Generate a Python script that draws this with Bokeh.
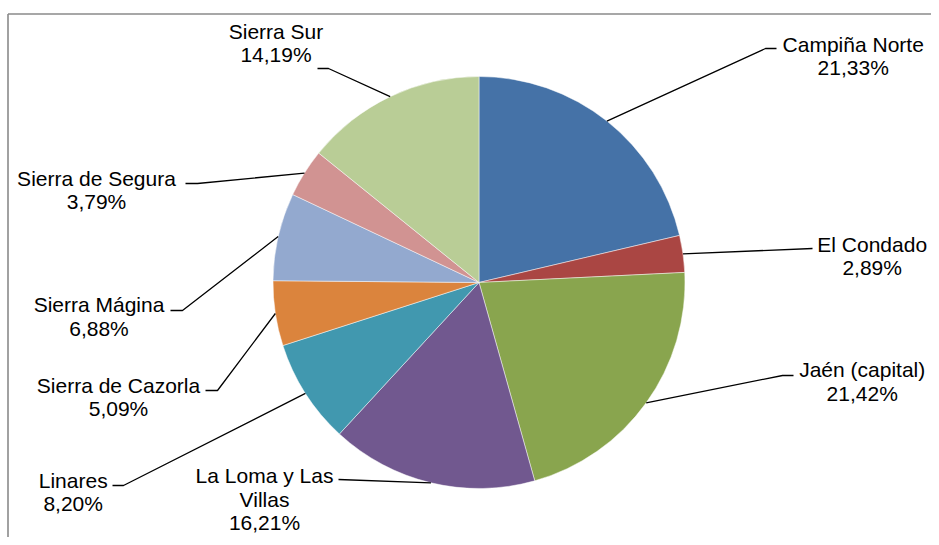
import math
from bokeh.plotting import figure
from bokeh.models import Range1d, ColumnDataSource
from bokeh.embed import file_html
from bokeh.resources import INLINE
from bokeh.core.properties import value

# ---- data ----
regions = ["Campiña Norte", "El Condado", "Jaén (capital)", "La Loma y Las Villas",
           "Linares", "Sierra de Cazorla", "Sierra Mágina", "Sierra de Segura", "Sierra Sur"]
shares = [21.33, 2.89, 21.42, 16.21, 8.20, 5.09, 6.88, 3.79, 14.19]
# how each category name is wrapped in its label
name_lines = [["Campiña Norte"], ["El Condado"], ["Jaén (capital)"], ["La Loma y Las", "Villas"],
              ["Linares"], ["Sierra de Cazorla"], ["Sierra Mágina"], ["Sierra de Segura"], ["Sierra Sur"]]

# ---- styles / layout ----
colors = ["#4572A7", "#AA4643", "#89A54E", "#71588F", "#4198AF",
          "#DB843D", "#93A9CF", "#D19392", "#B9CD96"]
W, H = 931, 537
PAGE_H = 545
def Y(py):
    return PAGE_H - py
cx, cy, R = 478.5, 282.0, 206.0          # pie centre / radius in picture px
# label anchor: centre x, baseline of first line (picture px)
label_anchor = [(852.7, 51), (871.7, 251), (861.7, 376.5), (264, 482.5), (72.7, 487.3),
                (118, 392.3), (98.5, 311.7), (96, 185), (275.5, 38.3)]
TEXT_DY = -7.5   # correction for how the renderer places the baseline
# leader line points after the pie-edge point (picture px)
leader_pts = [[(765, 48), (776, 48)], [(812, 248)], [(782, 375), (793, 375)], [(338, 479)],
              [(123, 485), (112, 485)], [(217, 390), (205, 390)], [(182, 310), (170, 310)],
              [(197, 183), (185, 183)], [(328, 68), (317, 68)]]
LINE_H = 23.5
FONT = "Liberation Sans"
FSIZE = "21px"

p = figure(width=W, height=H, output_backend="svg", toolbar_location=None,
           x_range=Range1d(0, W), y_range=Range1d(PAGE_H - H, PAGE_H),
           x_axis_type=None, y_axis_type=None, min_border=0,
           background_fill_color="white", border_fill_color="white")
p.outline_line_color = None
p.grid.visible = False

# chart-area frame (top and left edges visible)
p.line([7.5, W], [Y(13.5), Y(13.5)], line_color="#8a8a8a", line_width=1.6)
p.line([7.5, 7.5], [Y(13.5), Y(PAGE_H)], line_color="#8a8a8a", line_width=1.6)

total = sum(shares)
starts, ends, mids = [], [], []
acc = 0.0
for v in shares:
    f0 = acc / total
    f1 = (acc + v) / total
    starts.append(math.pi / 2 - 2 * math.pi * f0)
    ends.append(math.pi / 2 - 2 * math.pi * f1)
    mids.append((f0 + f1) / 2)
    acc += v

src = ColumnDataSource(dict(start=starts, end=ends, color=colors, region=regions))
p.wedge(x=cx, y=Y(cy), radius=R, radius_units="screen", start_angle="start", end_angle="end",
        direction="clock", fill_color="color", line_color="white", line_width=0.6,
        line_alpha=0.8, source=src)

# leader lines
xs, ys = [], []
for m, pts in zip(mids, leader_pts):
    a = 2 * math.pi * m
    px = cx + R * math.sin(a)
    py = cy - R * math.cos(a)
    lx = [px] + [q[0] for q in pts]
    ly = [Y(py)] + [Y(q[1]) for q in pts]
    xs.append(lx)
    ys.append(ly)
p.multi_line(xs, ys, line_color="black", line_width=1.3)

# labels
tx, ty, tt = [], [], []
for names, v, (ax, ay) in zip(name_lines, shares, label_anchor):
    lines = names + [f"{v:.2f}".replace(".", ",") + "%"]
    for i, s in enumerate(lines):
        tx.append(ax)
        ty.append(Y(ay + TEXT_DY + i * LINE_H))
        tt.append(s)
p.text(x=tx, y=ty, text=tt, text_align="center", text_baseline="alphabetic",
       text_font=value(FONT), text_font_size=FSIZE, text_color="black")

open("out.html", "w").write(file_html(p, INLINE))
